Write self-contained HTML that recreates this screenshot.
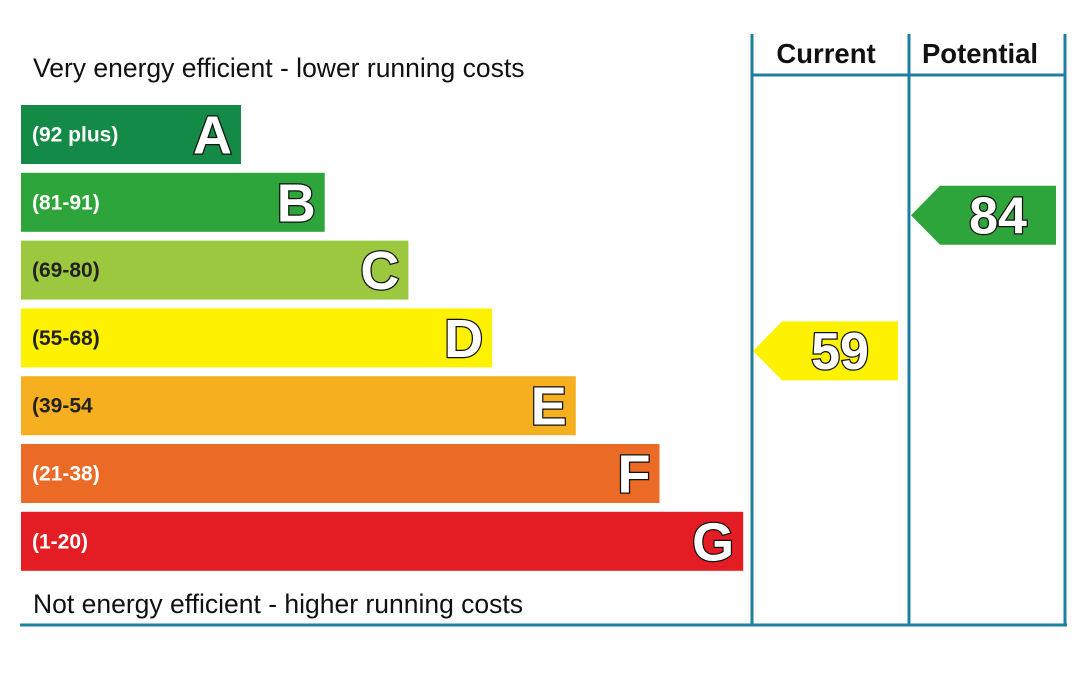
<!DOCTYPE html>
<html><head><meta charset="utf-8"><style>
html,body{margin:0;padding:0;background:#fff;width:1080px;height:700px;overflow:hidden}
svg{display:block;font-family:"Liberation Sans",Arial,sans-serif}
</style></head><body>
<svg id="c" width="1080" height="700">
<text x="33" y="77" font-size="26.5" fill="#111">Very energy efficient - lower running costs</text>
<text x="33" y="613" font-size="26.5" fill="#111">Not energy efficient - higher running costs</text>
<g stroke="#1f7fa0" stroke-width="3">
<line x1="752" y1="34" x2="752" y2="625"/><line x1="909" y1="34" x2="909" y2="625"/><line x1="1065" y1="34" x2="1065" y2="625"/>
<line x1="752" y1="75" x2="1065" y2="75"/><line x1="20" y1="625" x2="1067" y2="625"/>
</g>
<text x="826" y="63" font-size="27.5" font-weight="bold" text-anchor="middle" fill="#111">Current</text>
<text x="980" y="63" font-size="27.5" font-weight="bold" text-anchor="middle" fill="#111">Potential</text>
<g id="bars"></g>
</svg>
<script>
const bands=["A","B","C","D","E","F","G"];
const ranges=["(92 plus)","(81-91)","(69-80)","(55-68)","(39-54","(21-38)","(1-20)"];
const bandMin=[92,81,69,55,39,21,1];
const colors=["#138a45","#2ea53a","#9bc83f","#fff200","#f6b01f","#eb6a26","#e31d23"];
const currentValue=59;
const potentialValue=84;
const NS="http://www.w3.org/2000/svg";
const g=document.getElementById("bars");
const x0=21,top0=105,step=67.8,h=59,w0=220,wStep=83.7;
function mk(t,a){const e=document.createElementNS(NS,t);for(const k in a)e.setAttribute(k,a[k]);return e;}
bands.forEach((b,i)=>{
 const y=top0+i*step,w=w0+i*wStep;
 const r=mk("rect",{x:x0,y:y,width:w,height:h,fill:colors[i]});
 
 
 g.appendChild(r);
 const t=mk("text",{x:x0+11,y:y+h/2+7,"font-size":21,"font-weight":"bold",fill:(i>=2&&i<=4)?"#222":"#fff"});
 t.textContent=ranges[i];
 
 
 g.appendChild(t);
 const L=mk("text",{x:x0+w-9,y:y+h/2+19,"font-size":54,"font-weight":"bold","text-anchor":"end",fill:"#fff",stroke:"#111","stroke-width":2.5,"paint-order":"stroke"});
 L.textContent=b;
 
 
 g.appendChild(L);
});
function bandIdx(v){for(let i=0;i<bandMin.length;i++)if(v>=bandMin[i])return i;return 6;}
function arrow(v,xl,xr,name){
 const i=bandIdx(v);
 const yt=top0+i*step+13;
 const cy=yt+h/2;
 const p=mk("polygon",{points:`${xl},${cy} ${xl+29},${yt} ${xr},${yt} ${xr},${yt+h} ${xl+29},${yt+h}`,fill:colors[i]});
 
 
 g.appendChild(p);
 const t=mk("text",{x:(xl+29+xr)/2,y:cy+18,"font-size":52,"font-weight":"bold","text-anchor":"middle",fill:"#fff",stroke:"#111","stroke-width":2.5,"paint-order":"stroke"});
 t.textContent=v;
 
 
 g.appendChild(t);
}
arrow(currentValue,753,898,'current');
arrow(potentialValue,911,1056,'potential');
</script>
</body></html>
